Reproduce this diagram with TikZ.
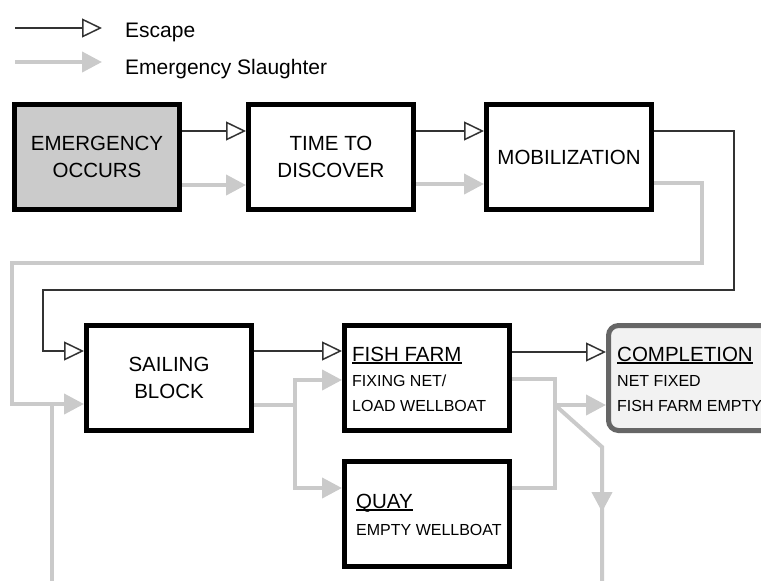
\documentclass[tikz,border=0pt]{standalone}
\usepackage{fontspec}
\setmainfont{Liberation Sans}
\usetikzlibrary{arrows.meta}
\definecolor{slgray}{HTML}{CACACA}
\definecolor{escline}{HTML}{333333}
\definecolor{startfill}{HTML}{CBCBCB}
\definecolor{donefill}{HTML}{F2F2F2}
\definecolor{doneedge}{HTML}{666666}
% underlined heading with a rule placed just below the baseline
\newcommand{\ulbox}[1]{\setbox0\hbox{#1}\rlap{\rule[-2.5pt]{\wd0}{1.3pt}}\box0}

\begin{document}
\begin{tikzpicture}[x=1pt,y=1pt,
  stage/.style={draw=black, line width=5pt, minimum width=165pt, minimum height=105pt,
    inner sep=0pt, align=center, font=\fontsize{20.5}{27}\selectfont},
  escflow/.style={draw=escline, line width=1.5pt,
    -{Triangle[open, length=20pt, width=19pt, fill=white]}},
  slflow/.style={draw=slgray, line width=4pt, -{Triangle[length=20pt, width=20pt]}},
  slline/.style={draw=slgray, line width=4pt},
  title/.style={anchor=base west, inner sep=0pt, font=\fontsize{20.5}{24}\selectfont},
  sub/.style={anchor=base west, inner sep=0pt, font=\fontsize{16}{19}\selectfont},
  legtext/.style={anchor=base west, inner sep=0pt, font=\fontsize{21}{24}\selectfont}]

\path[use as bounding box, clip] (0,0) rectangle (761,-581);

% legend
\coordinate (esc0) at (15,-28);
\coordinate (esc1) at (102,-28);
\draw[escflow] (esc0) -- (esc1);
\node[legtext] (esclbl) at (125,-37) {Escape};
\coordinate (sl0) at (15,-62);
\coordinate (sl1) at (102,-62);
\draw[slflow] (sl0) -- (sl1);
\node[legtext] (sllbl) at (125,-74) {Emergency Slaughter};

% stages
\node[stage, fill=startfill] (emerg) at (97,-157) {EMERGENCY\\OCCURS};
\node[stage] (time) at (331,-157) {TIME TO\\DISCOVER};
\node[stage] (mob) at (569,-157) {MOBILIZATION};
\node[stage] (sail) at (169,-378) {SAILING\\BLOCK};
\node[stage] (fish) at (427,-378) {};
\node[stage] (quay) at (427,-514) {};
\node[stage, draw=doneedge, fill=donefill, rounded corners=10pt, minimum width=164pt]
  (done) at (690.5,-378) {};

% stage texts
\node[title] (fishttl) at (352,-361) {\ulbox{FISH FARM}};
\node[sub] (fishs1) at (352,-386) {FIXING NET/};
\node[sub] (fishs2) at (352,-411) {LOAD WELLBOAT};
\node[title] (quayttl) at (356,-508) {\ulbox{QUAY}};
\node[sub] (quays1) at (356,-535) {EMPTY WELLBOAT};
\node[title] (donettl) at (617,-361) {\ulbox{COMPLETION}};
\node[sub] (dones1) at (617,-386) {NET FIXED};
\node[sub] (dones2) at (617,-411) {FISH FARM EMPTY};

% escape path
\draw[escflow] (emerg.east |- 0,-131) -- (time.west |- 0,-131);
\draw[escflow] (time.east |- 0,-131) -- (mob.west |- 0,-131);
\draw[escflow] (mob.east |- 0,-131) -- (734,-131) -- (734,-290) -- (43,-290)
  |- (sail.west |- 0,-351);
\draw[escflow] (sail.east |- 0,-351) -- (fish.west |- 0,-351);
\draw[escflow] (fish.east |- 0,-352) -- (done.west |- 0,-352);

% emergency slaughter path
\draw[slflow] (emerg.east |- 0,-185) -- (time.west |- 0,-185);
\draw[slflow] (time.east |- 0,-184) -- (mob.west |- 0,-184);
\draw[slflow] (mob.east |- 0,-183) -- (702,-183) -- (702,-263) -- (12,-263)
  |- (sail.west |- 0,-404);
\coordinate (retin) at (52,-590);
\draw[slline] (retin) -- (retin |- 0,-404);

\coordinate (split) at (295,-405);
\draw[slline] (sail.east |- split) -- (split);
\draw[slflow] (split) |- (fish.west |- 0,-380);
\draw[slflow] (split) |- (quay.west |- 0,-488);

\coordinate (merge) at (555,-405);
\draw[slline] (fish.east |- 0,-379) -| (555,-488) -- (quay.east |- 0,-488);
\draw[slflow] (merge) -- (done.west |- merge);
\coordinate (drop) at (602,-447);
\coordinate (out) at (602,-590);
\draw[slline] (merge) -- (drop) -- (out);
\draw[slflow] (602,-470) -- (602,-512);
\end{tikzpicture}
\end{document}
